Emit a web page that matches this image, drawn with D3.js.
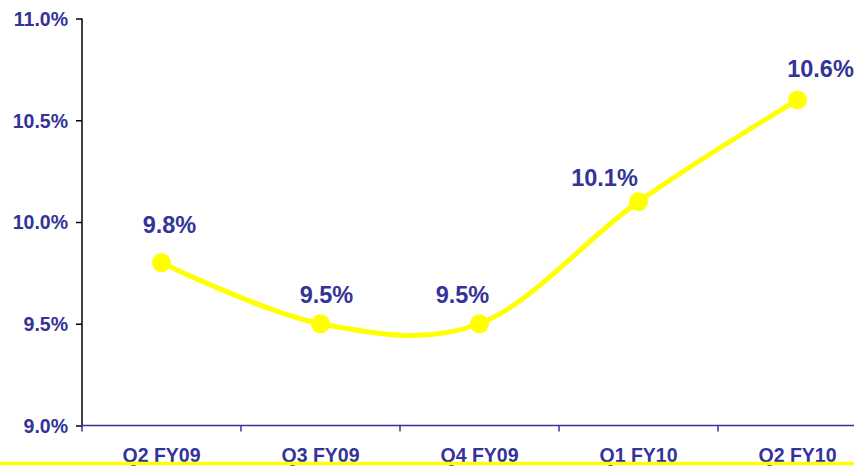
<!DOCTYPE html>
<html>
<head>
<meta charset="utf-8">
<script src="https://cdn.jsdelivr.net/npm/d3@7"></script>
<style>
  body { margin: 0; background: #fff; }
  svg { display: block; font-family: "Liberation Sans", Arial, sans-serif; font-weight: bold; }
</style>
</head>
<body>
<svg id="chart" width="854" height="466"></svg>
<script>
const quarters = ['Q2 FY09', 'Q3 FY09', 'Q4 FY09', 'Q1 FY10', 'Q2 FY10']
const rates = [9.8, 9.5, 9.5, 10.1, 10.6]
const yTicks = [9.0, 9.5, 10.0, 10.5, 11.0]

// labels were nudged by hand in the original
const labelShift = [[8, -30], [6, -21], [-17, -21], [-34, -16], [23, -23]]

const blue = '#333399'
const yellow = '#ffff00'
const svg = d3.select('#chart')

const x = d3.scaleBand().domain(quarters).range([82, 877])
const y = d3.scaleLinear().domain([9, 11]).range([425.5, 18.5])
const cx = d => x(d) + x.bandwidth() / 2

// y axis
const yAxis = svg.append('g')
  .attr('transform', 'translate(82,0)')
  .call(d3.axisLeft(y).tickValues(yTicks).tickSize(6).tickPadding(8)
    .tickFormat(d => d.toFixed(1) + '%'))
yAxis.select('.domain').attr('stroke', '#000').attr('stroke-width', 1.5)
  .attr('d', `M0,${y(11)}V${y(9)}`)
yAxis.selectAll('.tick line').attr('stroke', '#000').attr('stroke-width', 1.5)
yAxis.selectAll('.tick text').attr('fill', blue).style('font-size', '19.5px').attr('dy', '0.35em')

// x axis
const xAxis = svg.append('g')
  .attr('transform', `translate(0,${y(9)})`)
xAxis.append('line')
  .attr('x1', 82).attr('x2', 877)
  .attr('stroke', blue).attr('stroke-width', 1.5)
xAxis.selectAll('line.tk')
  .data(quarters)
  .join('line')
  .attr('class', 'tk')
  .attr('x1', d => x(d)).attr('x2', d => x(d))
  .attr('y1', 0).attr('y2', 6)
  .attr('stroke', blue).attr('stroke-width', 1.5)
xAxis.selectAll('text')
  .data(quarters)
  .join('text')
  .attr('x', cx)
  .attr('y', 36)
  .attr('text-anchor', 'middle')
  .attr('fill', blue)
  .style('font-size', '19.5px')
  .text(d => d)

// bottom yellow rule
svg.append('line')
  .attr('x1', 0).attr('x2', 854)
  .attr('y1', 463.5).attr('y2', 463.5)
  .attr('stroke', yellow).attr('stroke-width', 3.5)

// line
const line = d3.line()
  .x((d, i) => cx(quarters[i]))
  .y(d => y(d))
  .curve(d3.curveCardinal.tension(0))

svg.append('path')
  .datum(rates)
  .attr('d', line)
  .attr('fill', 'none')
  .attr('stroke', yellow)
  .attr('stroke-width', 5)

svg.selectAll('circle.pt')
  .data(rates)
  .join('circle')
  .attr('class', 'pt')
  .attr('cx', (d, i) => cx(quarters[i]))
  .attr('cy', d => y(d))
  .attr('r', 9.5)
  .attr('fill', yellow)

svg.selectAll('text.lbl')
  .data(rates)
  .join('text')
  .attr('class', 'lbl')
  .attr('x', (d, i) => cx(quarters[i]) + labelShift[i][0])
  .attr('y', (d, i) => y(d) + labelShift[i][1])
  .attr('text-anchor', 'middle')
  .attr('fill', blue)
  .style('font-size', '23.5px')
  .text(d => d.toFixed(1) + '%')
</script>
</body>
</html>
